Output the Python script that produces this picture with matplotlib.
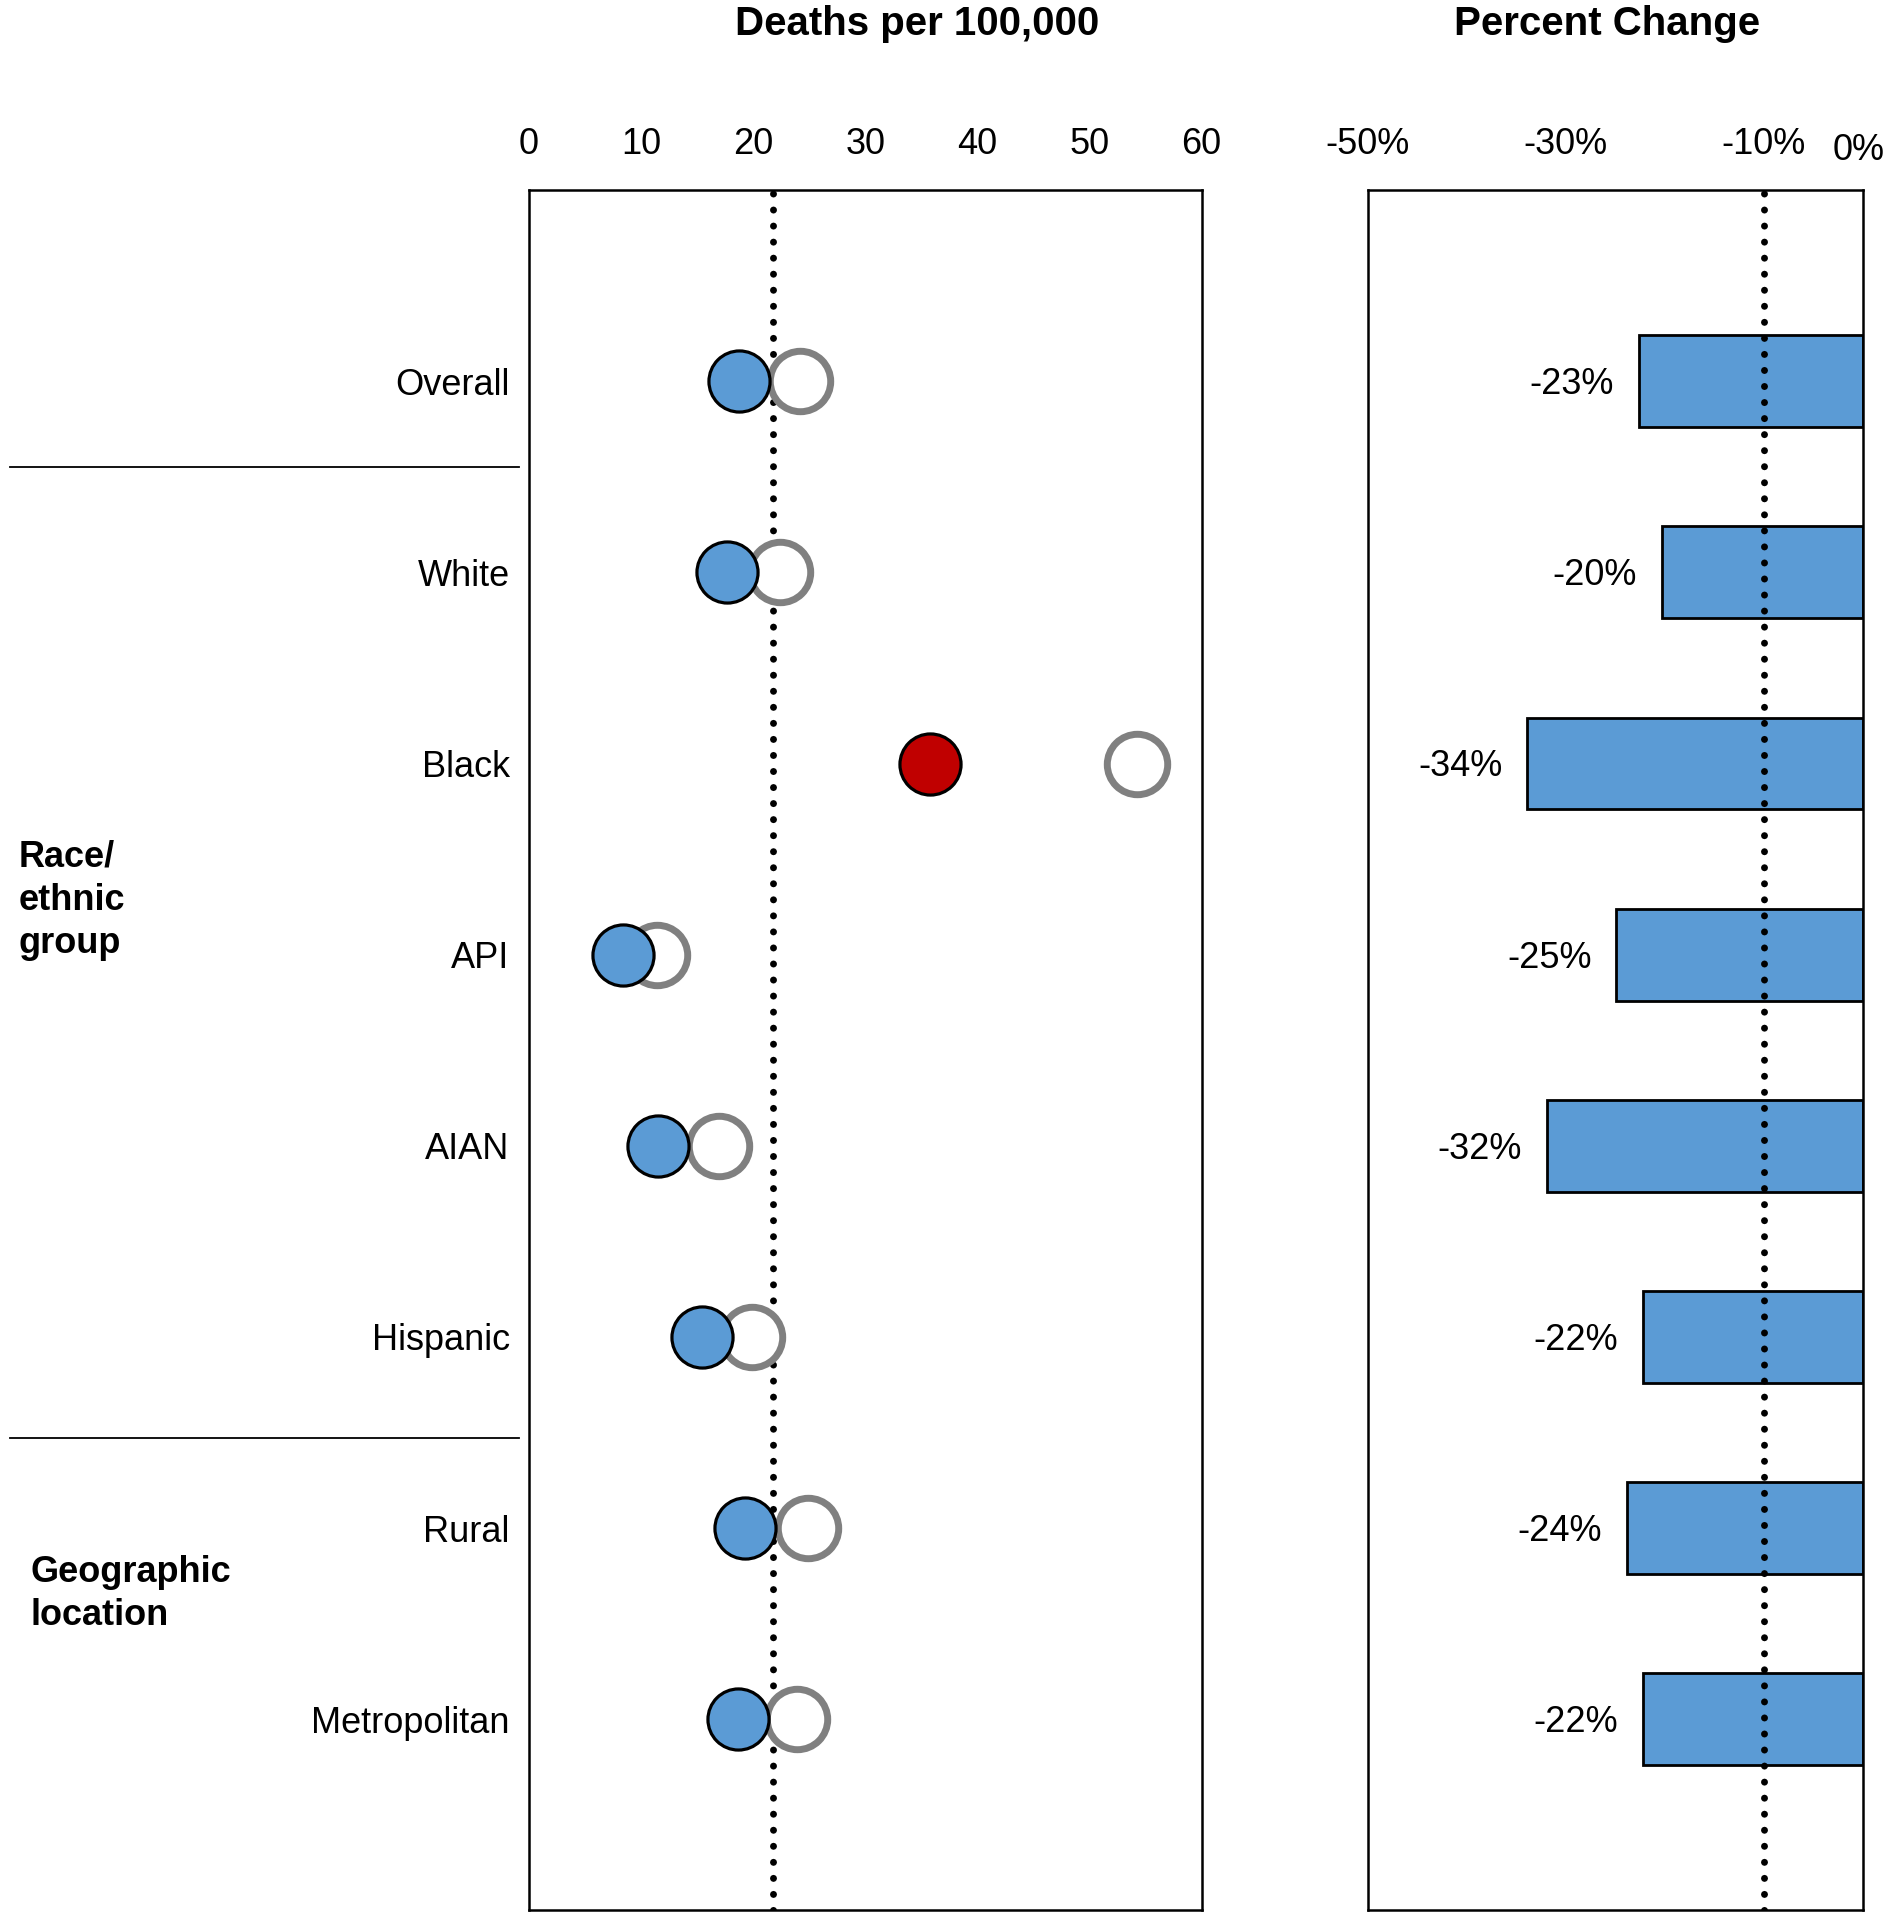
import matplotlib
matplotlib.use("Agg")
import matplotlib.pyplot as plt
import matplotlib.transforms as mtransforms
import numpy as np

plt.rcParams["font.family"] = ["Liberation Sans", "DejaVu Sans"]

groups = ["Overall", "White", "Black", "API", "AIAN", "Hispanic", "Rural", "Metropolitan"]
rate_recent = [18.7, 17.7, 35.8, 8.4, 11.5, 15.4, 19.3, 18.6]
rate_earlier = [24.2, 22.4, 54.2, 11.4, 16.9, 19.9, 24.9, 23.9]
pct_change = [-22.6, -20.3, -33.9, -24.9, -31.9, -22.2, -23.8, -22.2]
pct_labels = ["-23%", "-20%", "-34%", "-25%", "-32%", "-22%", "-24%", "-22%"]
highlight = [False, False, True, False, False, False, False, False]
ref_rate = 21.8
ref_pct = -10

left_ticks = [0, 10, 20, 30, 40, 50, 60]
right_ticks = [-50, -30, -10, 0]
right_ticklabels = ["-50%", "-30%", "-10%", "0%"]

blue = "#5B9BD5"
red = "#C00000"
gray = "#808080"

fig = plt.figure(figsize=(18.91, 19.2), dpi=100)
ax1 = fig.add_axes([0.2798, 0.005, 0.6354 - 0.2798, 0.901 - 0.005])
ax2 = fig.add_axes([0.7234, 0.005, 0.9851 - 0.7234, 0.901 - 0.005])

ypos = np.arange(1, len(groups) + 1)

# dot plot
ax1.axvline(ref_rate, color="black", lw=5, linestyle=(0, (0.01, 2.3)),
            dash_capstyle="round", zorder=1)
ax1.plot(rate_earlier, ypos, "o", ms=43.5, mfc="white", mec=gray, mew=5,
         linestyle="none", zorder=2)
colors = [red if h else blue for h in highlight]
for x, y, c in zip(rate_recent, ypos, colors):
    ax1.plot(x, y, "o", ms=44, mfc=c, mec="black", mew=2.3, zorder=3)

ax1.set_xlim(0, 60)
ax1.set_ylim(9, 0)
ax1.xaxis.tick_top()
ax1.set_xticks(left_ticks)
ax1.set_yticks(ypos)
ax1.set_yticklabels(groups)
ax1.tick_params(axis="x", length=0, pad=20, labelsize=26)
ax1.tick_params(axis="y", length=0, pad=14, labelsize=26)

# bar chart of percent change
ax2.barh(ypos, pct_change, height=0.48, color=blue, edgecolor="black",
         linewidth=2, zorder=2)
ax2.axvline(ref_pct, color="black", lw=5, linestyle=(0, (0.01, 2.3)),
            dash_capstyle="round", zorder=3)
for v, lab, y in zip(pct_change, pct_labels, ypos):
    ax2.annotate(lab, xy=(v, y), xytext=(-18, -2.5), textcoords="offset points",
                 ha="right", va="center", fontsize=26)
ax2.set_xlim(-50, 0)
ax2.set_ylim(9, 0)
ax2.xaxis.tick_top()
ax2.set_xticks(right_ticks)
ax2.set_xticklabels(right_ticklabels)
ax2.set_yticks([])
ax2.tick_params(axis="x", length=0, pad=20, labelsize=26)
last = ax2.get_xticklabels()[-1]
last.set_transform(last.get_transform() +
                   mtransforms.ScaledTranslation(-0.04, -0.06, fig.dpi_scale_trans))

for ax in (ax1, ax2):
    for s in ax.spines.values():
        s.set_linewidth(1.8)

# titles
fig.text(0.485, 0.9875, "Deaths per 100,000", ha="center", va="center",
         fontsize=29, fontweight="bold")
fig.text(0.8497, 0.9875, "Percent Change", ha="center", va="center",
         fontsize=29, fontweight="bold")

# group separators and labels
trans = mtransforms.blended_transform_factory(fig.transFigure, ax1.transData)
for yy in (1.45, 6.53):
    ax1.plot([0.0052, 0.2746], [yy, yy], color="black", lw=1.3,
             transform=trans, clip_on=False)
fig.text(0.0097, 0.531, "Race/\nethnic\ngroup", ha="left", va="center",
         fontsize=26, fontweight="bold", linespacing=1.3)
fig.text(0.0162, 0.170, "Geographic\nlocation", ha="left", va="center",
         fontsize=26, fontweight="bold", linespacing=1.3)

fig.savefig("out.png", dpi=100)
